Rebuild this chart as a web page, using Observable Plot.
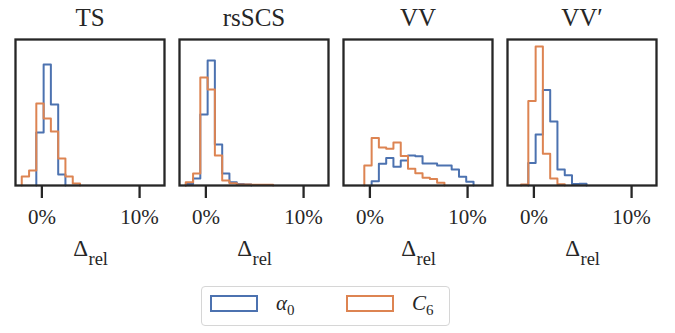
<!DOCTYPE html>
<html><head><meta charset="utf-8">
<script src="https://cdn.jsdelivr.net/npm/d3@7"></script>
<script src="https://cdn.jsdelivr.net/npm/@observablehq/plot@0.6"></script>
<style>
body{margin:0;background:#fff;}
#wrap{position:relative;width:675px;height:333px;font-family:'Liberation Serif','Times New Roman',serif;color:#262626;overflow:hidden}
#legend{position:absolute;left:201px;top:286px;width:249px;height:40px;box-sizing:border-box;border:1.5px solid #d6d6d6;border-radius:4px;background:#fff}
.sw{position:absolute;top:7.5px;width:48px;height:17px;box-sizing:border-box;border:2px solid}
.lt{position:absolute;top:6px;font-size:21px;line-height:21px;white-space:nowrap}
.lt sub{font-size:15px;font-style:normal;vertical-align:-5px;line-height:0}
svg text{font-family:'Liberation Serif','Times New Roman',serif !important}
</style></head>
<body><div id="wrap"><div id="chart"></div>
<div id="legend">
<div class="sw" style="left:7.5px;border-color:#4C72B0"></div><div class="lt" style="left:74px"><i>α</i><sub>0</sub></div>
<div class="sw" style="left:144px;border-color:#DD8452"></div><div class="lt" style="left:210px"><i>C</i><sub>6</sub></div>
</div></div>
<script>
const panels = ["TS", "rsSCS", "VV", "VV′"];
const seriesNames = ["α0", "C6"];
const colors = ["#4C72B0", "#DD8452"];
const xTicks = [0, 10];
// shared bin edges (in %)
const edges = [-2.06, -1.31, -0.57, 0.18, 0.92, 1.67, 2.41, 3.16, 3.90, 4.65, 5.39, 6.14, 6.88, 7.63, 8.37, 9.12, 9.86, 10.61];
// histogram heights per bin
const tsAlpha    = [0, 0, 53, 121, 81, 11, 0, 0, 0, 0, 0, 0, 0, 0, 0, 0, 0];
const tsC6       = [9, 15, 82, 67, 54, 27, 9, 2, 0, 0, 0, 0, 0, 0, 0, 0, 0];
const rsscsAlpha = [1.5, 7, 71, 125, 41, 12, 3.3, 1.5, 1, 0, 0, 0, 0, 0, 0, 0, 0];
const rsscsC6    = [3.3, 12, 108, 96, 30, 5, 2.3, 1, 1, 0.7, 0.7, 0.7, 0, 0, 0, 0, 0];
const vvAlpha    = [0, 0, 0, 4.3, 21.7, 27.5, 18.7, 25, 30, 29.3, 22, 22, 20, 20, 16, 8.7, 3.7];
const vvC6       = [0, 0, 20, 47.5, 38, 36.7, 43, 29.5, 16.7, 12.3, 7.7, 6.5, 2.7, 0, 0, 0, 0];
const vvpAlpha   = [0, 0, 22.5, 51, 95.5, 64, 16, 10.3, 1.5, 1.8, 0, 0, 0, 0, 0, 0, 0];
const vvpC6      = [0, 1, 84.5, 139, 31.7, 7, 1.2, 0, 0, 0, 0, 0, 0, 0, 0, 0, 0];

const histograms = [
  [panels[0], seriesNames[0], tsAlpha], [panels[0], seriesNames[1], tsC6],
  [panels[1], seriesNames[0], rsscsAlpha], [panels[1], seriesNames[1], rsscsC6],
  [panels[2], seriesNames[0], vvAlpha], [panels[2], seriesNames[1], vvC6],
  [panels[3], seriesNames[0], vvpAlpha], [panels[3], seriesNames[1], vvpC6]
];
const rows = [];
for (const [panel, s, h] of histograms) {
  const a = h.findIndex(v => v > 0);
  let b = h.length - 1; while (b > a && !(h[b] > 0)) b--;
  rows.push({panel, s, x: edges[a], y: 0});
  for (let i = a; i <= b; i++) rows.push({panel, s, x: edges[i], y: h[i]});
  rows.push({panel, s, x: edges[b + 1], y: 0});
}

const serif = "'Liberation Serif', 'Times New Roman', serif";
const chart = Plot.plot({
  width: 675, height: 280,
  marginLeft: 15, marginRight: 19, marginTop: 39, marginBottom: 95,
  style: {fontFamily: serif, color: "#262626", background: "white", overflow: "visible"},
  fx: {domain: panels, paddingInner: 0.0915, paddingOuter: 0, round: false, label: null},
  x: {domain: [-2.7, 12.55]},
  y: {domain: [0, 146], axis: null},
  color: {domain: seriesNames, range: colors},
  marks: [
    Plot.line(rows, {fx: "panel", x: "x", y: "y", z: "s", stroke: "s", strokeWidth: 2, curve: "step-after"}),
    Plot.frame({stroke: "#262626", strokeWidth: 2.3}),
    Plot.axisX({ticks: xTicks, tickFormat: d => d + "%", tickSize: 13, strokeWidth: 2.3, tickPadding: 11, fontSize: 21, fontFamily: serif, label: null}),
    Plot.axisFx({anchor: "top", tickSize: 0, tickPadding: 14, fontSize: 25, fontFamily: serif, label: null}),
    Plot.text(panels, {fx: d => d, text: () => "Δ", frameAnchor: "bottom", dy: 70, dx: -2, textAnchor: "end", fontSize: 23, fontFamily: serif, fill: "#262626"}),
    Plot.text(panels, {fx: d => d, text: () => "rel", frameAnchor: "bottom", dy: 79, dx: -1.5, textAnchor: "start", fontSize: 18.5, fontFamily: serif, fill: "#262626"})
  ]
});
document.getElementById("chart").appendChild(chart);
</script>
</body></html>
